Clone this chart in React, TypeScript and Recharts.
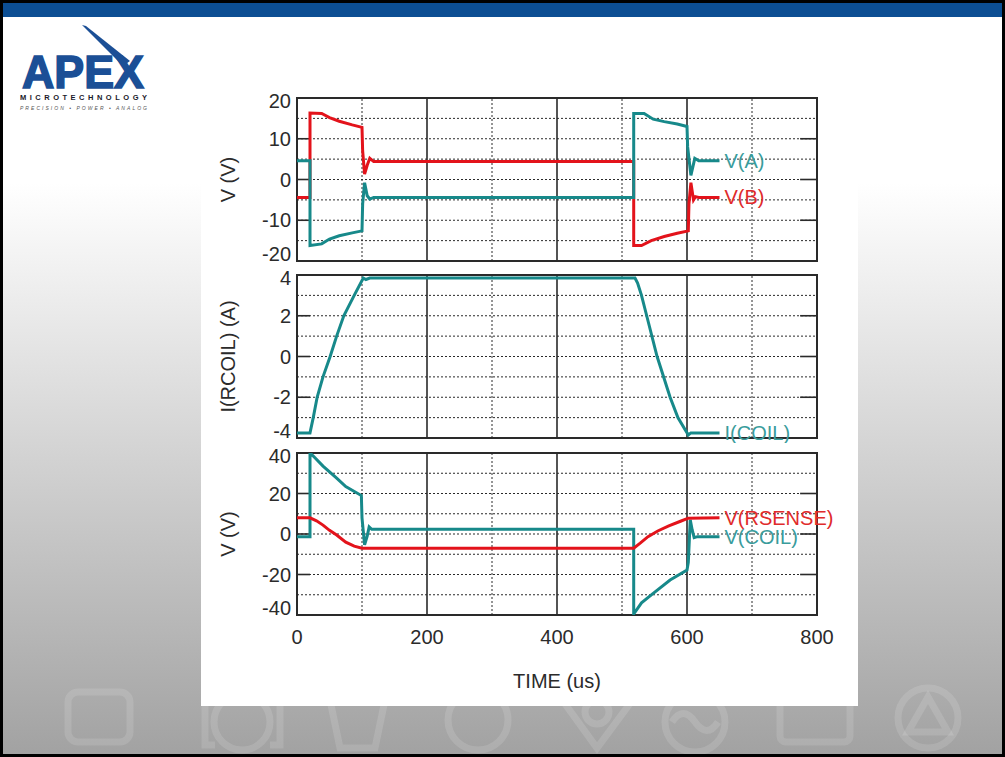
import React from "react";
import { LineChart, Line, XAxis, YAxis, ReferenceLine, ReferenceArea } from "recharts";

const FONT = '"Liberation Sans", Arial, sans-serif';
const TEAL = "#17898a";
const RED = "#e3131b";
const TEAL_TEXT = "#3a9c9c";
const RED_TEXT = "#e02b2b";
const GRID = "#2a2a2a";

// time axis (us)
const timeTicks = [0, 200, 400, 600, 800];
const timeMinor = [100, 300, 500, 700];
const timeMajor = [200, 400, 600];

// top plot: V(A), V(B)
const vaTime = [0, 20, 20, 38, 50, 65, 85, 100, 101, 104, 108, 112, 118, 518, 518, 534, 548, 565, 585, 600, 601, 606, 612, 618, 650];
const vaVolts = [4.6, 4.6, -16.2, -15.8, -14.6, -13.8, -13.1, -12.6, -6, -0.8, -4, -4.8, -4.4, -4.4, 16.2, 16.2, 14.8, 14.2, 13.6, 13, 8, 1, 5.2, 4.6, 4.6];
const vbTime = [0, 20, 20, 38, 50, 65, 85, 100, 101, 104, 108, 112, 118, 518, 518, 530, 545, 565, 585, 602, 603, 606, 610, 613, 618, 650];
const vbVolts = [-4.4, -4.4, 16.3, 16.2, 15.2, 14.3, 13.4, 12.8, 7, 1.3, 3.5, 5.2, 4.4, 4.4, -16.2, -16.2, -15, -14, -13.2, -12.6, -6, -0.8, -5, -4.2, -4.4, -4.4];
const vTicks = [-20, -10, 0, 10, 20];
const vGrid = [-15, -10, -5, 0, 5, 10, 15];
const vMajor = [-10, 0, 10];

// middle plot: I(COIL)
const iTime = [0, 20, 25, 31, 40, 51, 61, 72, 88, 102, 106, 112, 520, 524, 530, 538, 554, 574, 586, 602, 606, 650];
const iAmps = [-3.75, -3.75, -3, -2, -1, 0, 1, 2, 3, 3.85, 3.78, 3.85, 3.85, 3.6, 3, 2, 0, -2, -3, -3.85, -3.75, -3.75];
const iTicks = [-4, -2, 0, 2, 4];
const iGrid = [-3, -2, -1, 0, 1, 2, 3];
const iMajor = [-2, 0, 2];

// bottom plot: V(RSENSE), V(COIL)
const rsTime = [0, 20, 30, 40, 50, 61, 75, 88, 100, 518, 528, 540, 555, 572, 590, 602, 650];
const rsVolts = [8, 8, 6.5, 4.4, 1.8, -0.5, -4, -6, -7, -7, -4.5, -1.3, 1.5, 4, 6.3, 7.8, 8];
const coilTime = [0, 20, 20, 25, 40, 61, 75, 99, 100, 104, 108, 111, 115, 518, 518, 530, 548, 574, 600, 602, 605, 608, 611, 616, 650];
const coilVolts = [-1.3, -1.3, 40, 38.5, 33.5, 27.6, 23.4, 19, 8, -5.4, -1, 3.5, 2.3, 2.3, -39.5, -34, -29.3, -22.7, -17.8, -14, 7, 2, -1.8, -1.3, -1.3];
const cTicks = [-40, -20, 0, 20, 40];
const cGrid = [-30, -20, -10, 0, 10, 20, 30];
const cMajor = [-20, 0, 20];

const toPoints = (t: number[], v: number[]) => t.map((x, i) => ({ t: x, v: v[i] }));

type Series = { points: { t: number; v: number }[]; color: string; name: string; textColor: string };

const endLabel = (s: Series) => (props: any) => {
  if (props.index !== s.points.length - 1) return null;
  return (
    <text x={props.x + 5} y={props.y} fill={s.textColor} fontSize={20} fontFamily={FONT} dominantBaseline="central">
      {s.name}
    </text>
  );
};

const yTick = (top: number, bottom: number) => (props: any) => {
  const { x, y, payload } = props;
  let dy = 0;
  if (payload.value === top) dy = 3;
  if (payload.value === bottom) dy = -7;
  return (
    <text x={x} y={y + dy} textAnchor="end" dominantBaseline="central" fill="#2b2b2b" fontSize={20} fontFamily={FONT}>
      {payload.value}
    </text>
  );
};

const yLabel = (text: string) => (props: any) => {
  const vb = props.viewBox;
  const cx = vb.x + 27;
  const cy = vb.y + vb.height / 2;
  return (
    <text x={cx} y={cy} transform={`rotate(-90 ${cx} ${cy})`} textAnchor="middle" dominantBaseline="central" fill="#2b2b2b" fontSize={20} fontFamily={FONT}>
      {text}
    </text>
  );
};

const timeLabel = (props: any) => {
  const vb = props.viewBox;
  return (
    <text x={vb.x + vb.width / 2} y={vb.y + 66} textAnchor="middle" dominantBaseline="central" fill="#2b2b2b" fontSize={20} fontFamily={FONT}>
      TIME  (us)
    </text>
  );
};

type PlotProps = {
  top: number;
  height: number;
  marginTop: number;
  marginBottom: number;
  ticks: number[];
  grid: number[];
  major: number[];
  label: string;
  series: Series[];
  showTime?: boolean;
};

function Plot({ top, height, marginTop, marginBottom, ticks, grid, major, label, series, showTime }: PlotProps) {
  const lo = ticks[0];
  const hi = ticks[ticks.length - 1];
  return (
    <div style={{ position: "absolute", left: 0, top, width: 657, height }}>
      <LineChart width={657} height={height} margin={{ top: marginTop, right: 41, left: 0, bottom: marginBottom }}>
        <XAxis
          type="number"
          dataKey="t"
          domain={[0, 800]}
          ticks={timeTicks}
          interval={0}
          allowDataOverflow
          hide={!showTime}
          axisLine={false}
          tickLine={false}
          tickSize={0}
          tickMargin={15}
          height={85}
          tick={{ fill: "#2b2b2b", fontSize: 20, fontFamily: FONT }}
          label={showTime ? timeLabel : undefined}
        />
        <YAxis
          type="number"
          domain={[lo, hi]}
          ticks={ticks}
          interval={0}
          allowDataOverflow
          width={96}
          axisLine={false}
          tickLine={false}
          tickSize={0}
          tickMargin={6}
          tick={yTick(hi, lo)}
          label={yLabel(label)}
        />
        {grid.map((g) => (
          <ReferenceLine key={`h${g}`} y={g} stroke={GRID} strokeWidth={1} strokeDasharray="2 2" />
        ))}
        {timeMinor.map((g) => (
          <ReferenceLine key={`v${g}`} x={g} stroke={GRID} strokeWidth={1} strokeDasharray="2 2" />
        ))}
        {timeMajor.map((g) => (
          <ReferenceLine key={`m${g}`} x={g} stroke={GRID} strokeWidth={1.6} />
        ))}
        {major.map((g) => (
          <ReferenceLine key={`l${g}`} segment={[{ x: 0, y: g }, { x: 20, y: g }]} stroke={GRID} strokeWidth={1.6} />
        ))}
        {major.map((g) => (
          <ReferenceLine key={`r${g}`} segment={[{ x: 774, y: g }, { x: 800, y: g }]} stroke={GRID} strokeWidth={1.6} />
        ))}
        <ReferenceArea x1={0} x2={800} y1={lo} y2={hi} fill="none" stroke={GRID} strokeWidth={2} />
        {series.map((s) => (
          <Line
            key={s.name}
            data={s.points}
            dataKey="v"
            type="linear"
            stroke={s.color}
            strokeWidth={3}
            dot={false}
            activeDot={false}
            isAnimationActive={false}
            label={endLabel(s)}
          />
        ))}
      </LineChart>
    </div>
  );
}

function Logo() {
  return (
    <svg width={1005} height={757} style={{ position: "absolute", left: 0, top: 0 }}>
      <g fill="none" stroke="#ffffff" strokeOpacity={0.13} strokeWidth={7}>
        <rect x={68} y={692} width={62} height={50} rx={10} />
        <circle cx={242} cy={722} r={28} />
        <path d="M 215 700 L 205 700 L 205 745 L 215 745 M 270 700 L 280 700 L 280 745 L 270 745" />
        <path d="M 330 700 L 385 700 L 375 748 L 340 748 Z" />
        <circle cx={478} cy={720} r={30} />
        <path d="M 555 690 L 597 748 L 640 690" />
        <circle cx={597} cy={712} r={12} />
        <circle cx={695} cy={722} r={30} />
        <path d="M 672 722 Q 683 705 695 722 Q 707 739 718 722" />
        <rect x={780} y={700} width={70} height={42} rx={6} />
        <circle cx={928} cy={718} r={30} />
        <path d="M 928 697 L 948 732 L 908 732 Z" />
      </g>
      <polygon points="82,25 86,26 130,61 123,66" fill="#1b4f96" />
      <text
        x={22}
        y={88}
        fontFamily={FONT}
        fontWeight={900}
        fontSize={46}
        fill="#1b4f96"
        stroke="#1b4f96"
        strokeWidth={1.6}
        textLength={122}
        lengthAdjust="spacingAndGlyphs"
      >
        APEX
      </text>
      <text x={20} y={100} fontFamily={FONT} fontWeight={700} fontSize={7.5} fill="#1a1a2a" textLength={127} lengthAdjust="spacing">
        MICROTECHNOLOGY
      </text>
      <text x={20} y={110} fontFamily={FONT} fontStyle="italic" fontSize={5} fill="#555" textLength={127} lengthAdjust="spacing">
        PRECISION • POWER • ANALOG
      </text>
    </svg>
  );
}

export default function App() {
  const top: Series[] = [
    { points: toPoints(vbTime, vbVolts), color: RED, name: "V(B)", textColor: RED_TEXT },
    { points: toPoints(vaTime, vaVolts), color: TEAL, name: "V(A)", textColor: TEAL_TEXT },
  ];
  const mid: Series[] = [{ points: toPoints(iTime, iAmps), color: TEAL, name: "I(COIL)", textColor: TEAL_TEXT }];
  const bot: Series[] = [
    { points: toPoints(coilTime, coilVolts), color: TEAL, name: "V(COIL)", textColor: TEAL_TEXT },
    { points: toPoints(rsTime, rsVolts), color: RED, name: "V(RSENSE)", textColor: RED_TEXT },
  ];
  return (
    <div
      style={{
        position: "absolute",
        left: 0,
        top: 0,
        width: 1005,
        height: 757,
        boxSizing: "border-box",
        border: "3px solid #000",
        overflow: "hidden",
        background: "linear-gradient(to bottom, #ffffff 0%, #ffffff 24%, #a2a2a2 100%)",
      }}
    >
      <div style={{ position: "absolute", left: 0, top: 0, width: 1005, height: 14, background: "#0c4e93" }} />
      <div style={{ position: "absolute", left: -3, top: -3 }}>
        <Logo />
      </div>
      <div style={{ position: "absolute", left: 198, top: 80, width: 657, height: 623, background: "#ffffff" }}>
        <Plot top={0} height={183} marginTop={15} marginBottom={5} ticks={vTicks} grid={vGrid} major={vMajor} label="V (V)" series={top} />
        <Plot top={183} height={177} marginTop={9} marginBottom={5} ticks={iTicks} grid={iGrid} major={iMajor} label="I(RCOIL) (A)" series={mid} />
        <Plot top={360} height={257} marginTop={10} marginBottom={0} ticks={cTicks} grid={cGrid} major={cMajor} label="V (V)" series={bot} showTime />
      </div>
    </div>
  );
}
